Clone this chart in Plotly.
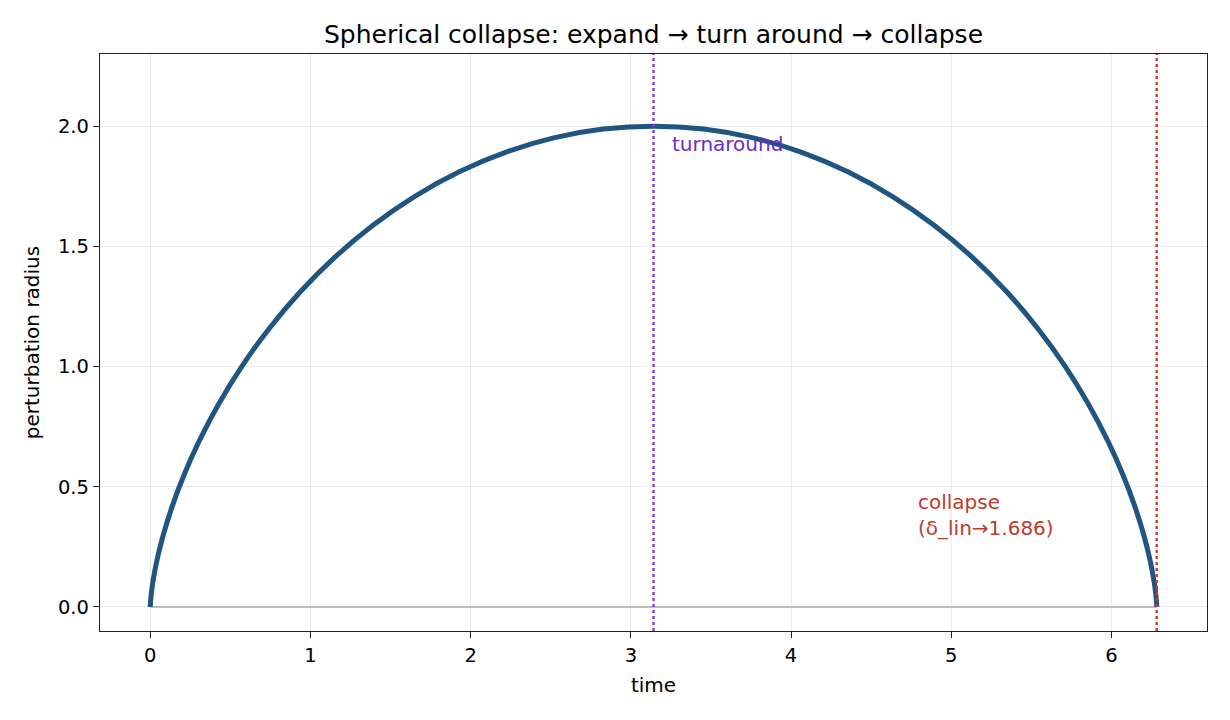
import plotly.graph_objects as go

# cycloid points (time, radius)
time = [0.0, 0.00008, 0.00065, 0.00514, 0.01725, 0.04053, 0.07829, 0.13346,
        0.20855, 0.30558, 0.42603, 0.57080, 0.74019, 0.93390, 1.15103,
        1.39009, 1.64908, 1.92548, 2.21636, 2.51841, 2.82808, 3.14159,
        3.45511, 3.76478, 4.06683, 4.35771, 4.63411, 4.89310, 5.13216,
        5.34929, 5.54300, 5.71239, 5.85716, 5.97761, 6.07464, 6.14973,
        6.20490, 6.24266, 6.26594, 6.27805, 6.28254, 6.28311, 6.28319]
radius = [0.0, 0.00308, 0.01231, 0.04894, 0.10899, 0.19098, 0.29289, 0.41221,
          0.54601, 0.69098, 0.84357, 1.0, 1.15643, 1.30902, 1.45399,
          1.58779, 1.70711, 1.80902, 1.89101, 1.95106, 1.98769, 2.0,
          1.98769, 1.95106, 1.89101, 1.80902, 1.70711, 1.58779, 1.45399,
          1.30902, 1.15643, 1.0, 0.84357, 0.69098, 0.54601, 0.41221,
          0.29289, 0.19098, 0.10899, 0.04894, 0.01231, 0.00308, 0.0]

t_turn = 3.14159
t_collapse = 6.28319
x_ticks = [0, 1, 2, 3, 4, 5, 6]
y_ticks = [0.0, 0.5, 1.0, 1.5, 2.0]

font = "DejaVu Sans"

fig = go.Figure()

# baseline at zero
fig.add_trace(go.Scatter(x=[0, t_collapse], y=[0, 0], mode="lines",
                         line=dict(color="#aaaaaa", width=1.6),
                         hoverinfo="skip"))

fig.add_trace(go.Scatter(x=time, y=radius, mode="lines",
                         line=dict(color="#1f5580", width=5, shape="spline")))

fig.add_vline(x=t_turn, line=dict(color="#7b3fe4", width=2.4, dash="dot"))
fig.add_vline(x=t_collapse, line=dict(color="#d03a30", width=2.4, dash="dot"))

fig.add_annotation(x=t_turn + 0.1, y=1.9, text="turnaround", showarrow=False,
                   xanchor="left", yanchor="bottom", yshift=-8,
                   font=dict(family=font, size=20, color="#6a2ccf"))
fig.add_annotation(x=t_collapse - 1.5, y=0.3, text="collapse<br>(δ_lin→1.686)",
                   showarrow=False, xanchor="left", yanchor="bottom", yshift=-7,
                   align="left",
                   font=dict(family=font, size=20, color="#c0392b"))

axis_common = dict(showline=True, linecolor="#222222", linewidth=1.3,
                   mirror=True, ticks="outside", ticklen=6, tickcolor="#222222",
                   tickwidth=1.3, showgrid=True, gridcolor="#ececec",
                   gridwidth=1, zeroline=False,
                   tickfont=dict(family=font, size=19.5, color="black"))

fig.update_xaxes(range=[-0.314, 6.597], tickvals=x_ticks,
                 title=dict(text="time", font=dict(family=font, size=20,
                                                   color="black"), standoff=12),
                 **axis_common)
fig.update_yaxes(range=[-0.1, 2.3], tickvals=y_ticks, tickformat=".1f",
                 title=dict(text="perturbation radius",
                            font=dict(family=font, size=20, color="black"),
                            standoff=12),
                 **axis_common)

fig.update_layout(
    width=1230, height=720,
    template="none",
    showlegend=False,
    paper_bgcolor="white", plot_bgcolor="white",
    margin=dict(l=92, r=31, t=46, b=97, autoexpand=False),
    title=dict(text="Spherical collapse: expand → turn around → collapse",
               x=0.5, xref="paper", xanchor="center", y=0.964, yanchor="middle",
               font=dict(family=font, size=25, color="black")),
)

fig.write_html("out.html")
